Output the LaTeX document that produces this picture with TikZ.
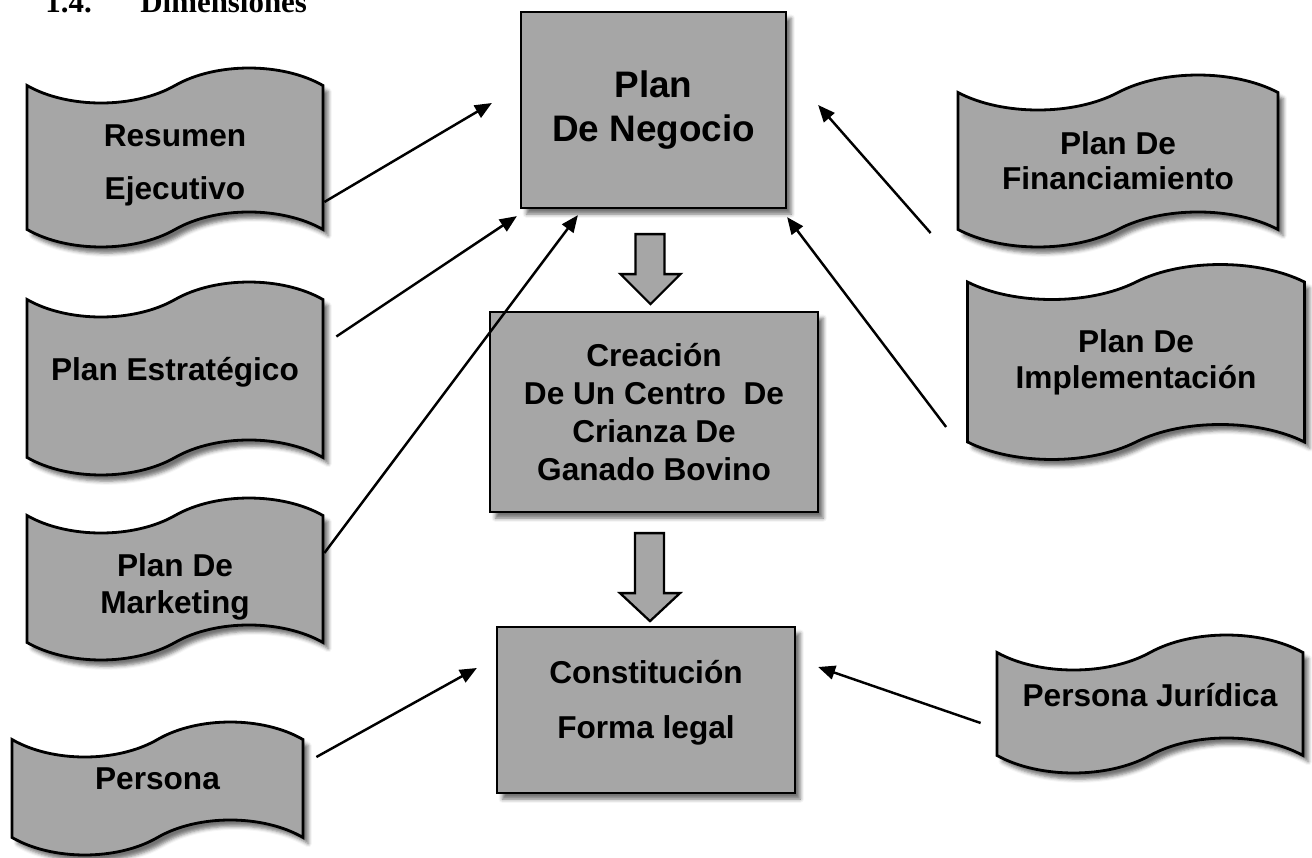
\documentclass[tikz,border=0pt]{standalone}
\usepackage{fontspec}
\setmainfont{Liberation Sans}
\newfontfamily\headfont{Liberation Serif}
\usepackage{tikz}
\usetikzlibrary{
  shapes.symbols
  , calc
  , arrows.meta
  , shadows.blur
}
\definecolor{boxgray}{RGB}{166,166,166}

\begin{document}
\begin{tikzpicture}[x=0.02cm, y=-0.02cm,
    banner/.style={draw, tape, line width=1.6pt, fill=boxgray,
      tape bend height=0.7cm, align=center, inner sep=0pt,
      font=\fontsize{18}{21.6}\selectfont\bfseries,
      blur shadow={shadow xshift=3pt, shadow yshift=-3.5pt, shadow opacity=55}},
    plainbox/.style={draw, rectangle, line width=1.3pt, fill=boxgray,
      align=center, inner sep=0pt,
      font=\fontsize{18}{21.6}\selectfont\bfseries,
      blur shadow={shadow xshift=3pt, shadow yshift=-3.5pt, shadow opacity=55}},
    pointer/.style={-{Triangle[length=0.34cm, width=0.28cm]}, line width=1.4pt, black},
    bigarrow/.style={draw, line width=1.3pt, fill=boxgray, line join=miter},
  ]
  \useasboundingbox (0,0) rectangle (1312,858);

  % heading, cut off at the top edge
  \node [anchor=base west, inner sep=0pt, font=\headfont\fontsize{17.6}{20}\selectfont\bfseries] (headnum) at (45,13) {1.4.};
  \node [anchor=base west, inner sep=0pt, font=\headfont\fontsize{17.6}{20}\selectfont\bfseries] (headtitle) at (140,13) {Dimensiones};

  % middle column
  \node [plainbox, minimum width=5.3cm, minimum height=3.92cm,
    font=\fontsize{21}{25}\selectfont\bfseries] (negocio) at (653.5,110) {Plan\\De Negocio};
  \node [plainbox, minimum width=6.56cm, minimum height=4cm] (creacion) at (654,412)
    {Creación\\De Un Centro \ De\\Crianza De\\Ganado Bovino};
  \node [plainbox, minimum width=5.96cm, minimum height=3.32cm,
    font=\fontsize{18}{31}\selectfont\bfseries] (constitucion) at (646,710)
    {Constitución\rule[-4pt]{0pt}{4pt}\\Forma legal\rule[-12pt]{0pt}{12pt}};

  % left column
  \node [banner, minimum width=5.92cm, minimum height=3.58cm,
    font=\fontsize{18}{30}\selectfont\bfseries] (resumen) at (175,157.5) {\rule{0pt}{21pt}Resumen\\Ejecutivo};
  \node [banner, minimum width=5.92cm, minimum height=3.86cm, text depth=0.37cm] (estrategico) at (175,378.5) {Plan Estratégico};
  \node [banner, minimum width=5.92cm, minimum height=3.24cm] (marketing) at (175,579) {\rule{0pt}{22pt}Plan De\\Marketing};
  \node [banner, minimum width=5.82cm, minimum height=2.66cm, text depth=0.4cm] (persona) at (157.5,788.5) {Persona};

  % right column
  \node [banner, minimum width=6.4cm, minimum height=3.44cm,
    font=\fontsize{18}{20}\selectfont\bfseries] (financiamiento) at (1118,161) {Plan De\\Financiamiento};
  \node [banner, minimum width=6.74cm, minimum height=3.9cm,
    font=\fontsize{18}{20.5}\selectfont\bfseries] (implementacion) at (1136,362) {Plan De\\Implementación};
  \node [banner, minimum width=6.12cm, minimum height=2.76cm, text depth=0.36cm] (juridica) at (1150,704) {Persona Jurídica};

  % block arrows down the middle
  \draw [bigarrow] ($(negocio.south)+(-18,25)$) -- ++(29,0) -- ++(0,40) -- ++(16,0)
    -- ++(-30,30) -- ++(-30,-30) -- ++(15,0) -- cycle;
  \draw [bigarrow] ($(creacion.south)+(-19,20)$) -- ++(29,0) -- ++(0,60) -- ++(16,0)
    -- ++(-30,28) -- ++(-30,-28) -- ++(15,0) -- cycle;

  % thin arrows into the boxes
  \draw [pointer] ([yshift=-0.89cm]resumen.east) -- ($(negocio.west)+(-28,-7)$);
  \draw [pointer] ($(estrategico.east)+(12,-42)$) -- ($(negocio.south west)+(-3,7)$);
  \draw [pointer] ($(marketing.east)+(0,-26)$) -- ($(negocio.south west)+(58,6)$);
  \draw [pointer] ($(persona.east)+(12,-31.5)$) -- ($(constitucion.west)+(-19,-42)$);
  \draw [pointer] ($(financiamiento.west)+(-26,72)$) -- ($(negocio.east)+(31,-5)$);
  \draw [pointer] ($(implementacion.west)+(-20,65)$) -- ($(negocio.south east)+(0,8)$);
  \draw [pointer] ($(juridica.west)+(-15,19)$) -- ($(constitucion.east)+(22,-43)$);
\end{tikzpicture}
\end{document}
